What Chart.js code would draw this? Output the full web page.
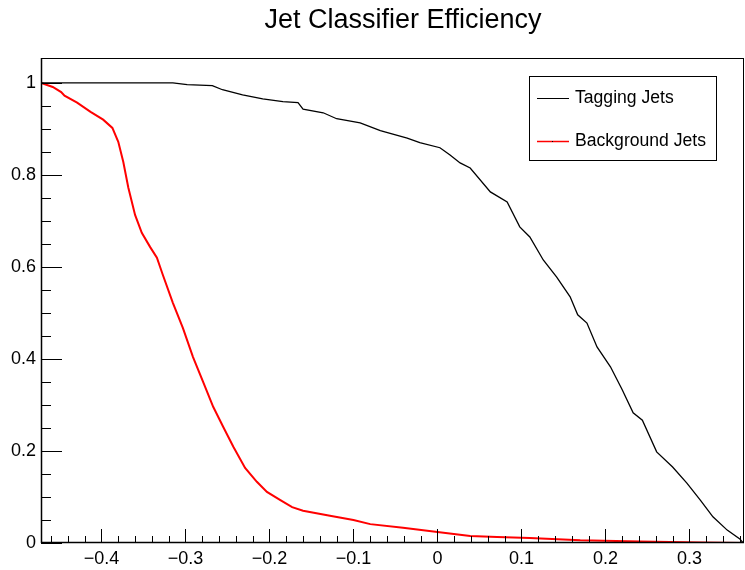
<!DOCTYPE html>
<html lang="en">
<head>
<meta charset="UTF-8">
<title>Jet Classifier Efficiency</title>
<script src="https://cdn.jsdelivr.net/npm/chart.js"></script>
<style>
  body { margin: 0; background: #fff; }
  #wrap { width: 745px; height: 570px; position: relative; }
</style>
</head>
<body>
<div id="wrap"><canvas id="effChart"></canvas></div>
<script>
// tagging jets efficiency vs classifier cut
const tagX = [-0.472, -0.315, -0.298, -0.268, -0.256, -0.232, -0.208, -0.184, -0.166, -0.160,
              -0.136, -0.120, -0.092, -0.068, -0.036, -0.021, 0.003, 0.015, 0.027, 0.039,
              0.063, 0.083, 0.098, 0.110, 0.126, 0.142, 0.158, 0.167, 0.178, 0.190,
              0.206, 0.220, 0.233, 0.244, 0.261, 0.280, 0.297, 0.313, 0.328, 0.345,
              0.360, 0.364];
const tagY = [1.0, 1.0, 0.996, 0.994, 0.985, 0.974, 0.965, 0.959, 0.957, 0.943,
              0.935, 0.922, 0.913, 0.896, 0.880, 0.870, 0.859, 0.843, 0.826, 0.815,
              0.763, 0.741, 0.687, 0.665, 0.615, 0.578, 0.535, 0.496, 0.478, 0.426,
              0.383, 0.333, 0.283, 0.267, 0.198, 0.165, 0.130, 0.093, 0.057, 0.028,
              0.009, 0.0];

// background jets efficiency
const bkgX = [-0.472, -0.458, -0.448, -0.444, -0.429, -0.413, -0.398, -0.387, -0.380, -0.374,
              -0.368, -0.360, -0.352, -0.342, -0.334, -0.327, -0.315, -0.303, -0.291, -0.279,
              -0.267, -0.255, -0.243, -0.229, -0.215, -0.203, -0.187, -0.173, -0.160, -0.128,
              -0.100, -0.080, -0.041, 0.0, 0.039, 0.071, 0.110, 0.170, 0.241, 0.313, 0.364];
const bkgY = [1.0, 0.991, 0.980, 0.972, 0.957, 0.937, 0.920, 0.902, 0.872, 0.828,
              0.772, 0.713, 0.674, 0.643, 0.620, 0.583, 0.522, 0.467, 0.404, 0.350,
              0.296, 0.252, 0.209, 0.163, 0.133, 0.111, 0.093, 0.078, 0.070, 0.059,
              0.050, 0.041, 0.033, 0.024, 0.015, 0.013, 0.011, 0.006, 0.003, 0.001, 0.0];

const xTicks = [-0.4, -0.3, -0.2, -0.1, 0, 0.1, 0.2, 0.3];
const yTicks = [0, 0.2, 0.4, 0.6, 0.8, 1];
const seriesNames = ['Tagging Jets', 'Background Jets'];

const FONT = '"Liberation Sans", Arial, sans-serif';

function fmt(v) {
    if (Math.abs(v) < 1e-9) return '0';
    const s = String(Math.round(v * 10) / 10);
    return s.replace('-', '\u2212');
}

// ROOT style: frame, inward ticks, title and boxed legend
const rootStyle = {
    id: 'rootStyle',
    afterDraw(chart) {
        const ctx = chart.ctx;
        const a = chart.chartArea;
        const xs = chart.scales.x, ys = chart.scales.y;
        ctx.save();
        ctx.strokeStyle = '#000';
        ctx.lineWidth = 1;
        ctx.strokeRect(a.left + 0.5, a.top + 0.5, a.right - a.left - 1, a.bottom - a.top - 1);

        ctx.lineWidth = 1.5;
        ctx.beginPath();
        ctx.moveTo(a.left + 0.5, a.top); ctx.lineTo(a.left + 0.5, a.bottom);
        ctx.moveTo(a.left, a.bottom - 0.5); ctx.lineTo(a.right, a.bottom - 0.5);
        ctx.stroke();

        ctx.lineWidth = 1;
        ctx.beginPath();
        // x ticks
        for (let i = -23; i <= 18; i++) {
            const v = i * 0.02;
            if (v < xs.min || v > xs.max) continue;
            const px = Math.round(xs.getPixelForValue(v)) + 0.5;
            const len = (i % 5 === 0) ? 14 : 7;
            ctx.moveTo(px, a.bottom); ctx.lineTo(px, a.bottom - len);
        }
        // y ticks
        for (let i = 0; i <= 20; i++) {
            const v = i * 0.05;
            const py = Math.round(ys.getPixelForValue(v)) + 0.5;
            const len = (i % 4 === 0) ? 21 : 10;
            ctx.moveTo(a.left, py); ctx.lineTo(a.left + len, py);
        }
        ctx.stroke();

        // title
        ctx.fillStyle = '#000';
        ctx.font = '27px ' + FONT;
        ctx.textAlign = 'center';
        ctx.textBaseline = 'middle';
        ctx.fillText('Jet Classifier Efficiency', 403, 21);

        // legend box
        const lx = 529, ly = 76, lw = 187, lh = 84;
        ctx.fillStyle = '#fff';
        ctx.fillRect(lx, ly, lw, lh);
        ctx.lineWidth = 1;
        ctx.strokeStyle = '#000';
        ctx.strokeRect(lx + 0.5, ly + 0.5, lw, lh);
        const rows = [98, 141];
        const cols = ['#000', '#ff0000'];
        ctx.font = '17.6px ' + FONT;
        ctx.textAlign = 'left';
        rows.forEach((ry, k) => {
            ctx.strokeStyle = cols[k];
            ctx.lineWidth = k === 0 ? 1 : 1.5;
            ctx.beginPath();
            ctx.moveTo(537, ry + 0.5); ctx.lineTo(569, ry + 0.5);
            ctx.stroke();
            if (k === 1) { ctx.fillStyle = '#000'; ctx.fillRect(552, ry, 1, 1); }
            ctx.fillStyle = '#000';
            ctx.fillText(seriesNames[k], 575, ry);
        });
        ctx.restore();
    }
};

const ctx = document.getElementById('effChart').getContext('2d');
new Chart(ctx, {
    type: 'line',
    data: {
        datasets: [
            {
                label: seriesNames[0],
                data: tagX.map((x, i) => ({ x: x, y: tagY[i] })),
                borderColor: '#000',
                borderWidth: 1.3,
                pointRadius: 0,
                tension: 0,
                fill: false
            },
            {
                label: seriesNames[1],
                data: bkgX.map((x, i) => ({ x: x, y: bkgY[i] })),
                borderColor: '#ff0000',
                borderWidth: 2,
                pointRadius: 0,
                tension: 0,
                fill: false
            }
        ]
    },
    options: {
        responsive: true,
        maintainAspectRatio: false,
        animation: false,
        layout: { padding: { top: 58, right: 1, left: 0, bottom: 0 } },
        plugins: {
            legend: { display: false },
            title: { display: false },
            tooltip: { enabled: false }
        },
        scales: {
            x: {
                type: 'linear',
                min: -0.472,
                max: 0.365,
                afterBuildTicks: (s) => { s.ticks = xTicks.map(v => ({ value: v })); },
                afterFit: (s) => { s.height = 27; },
                grid: { display: false, drawTicks: false },
                border: { display: false },
                ticks: {
                    padding: 5,
                    color: '#000',
                    font: { family: FONT, size: 18 },
                    maxRotation: 0,
                    callback: (v) => fmt(v)
                }
            },
            y: {
                type: 'linear',
                min: 0,
                max: 1.054,
                afterBuildTicks: (s) => { s.ticks = yTicks.map(v => ({ value: v })); },
                afterFit: (s) => { s.width = 41; },
                grid: { display: false, drawTicks: false },
                border: { display: false },
                ticks: {
                    padding: 5,
                    color: '#000',
                    font: { family: FONT, size: 18 },
                    callback: (v) => fmt(v)
                }
            }
        }
    },
    plugins: [rootStyle]
});
</script>
</body>
</html>
